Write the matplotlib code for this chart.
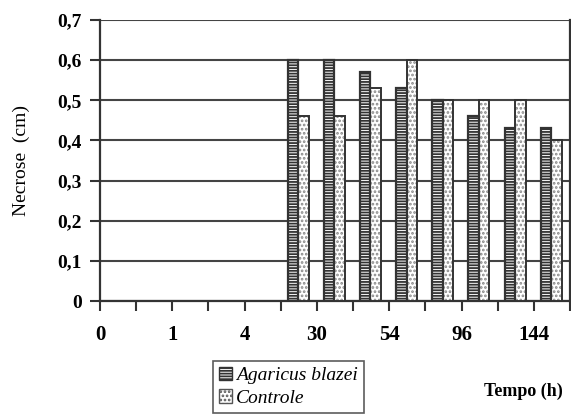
import matplotlib
matplotlib.use("Agg")
import matplotlib.pyplot as plt
import numpy as np
from matplotlib.patches import Patch

# category slots along the x axis (first five have no data)
n_slots = 13
first_bar_slot = 5
tick_labels = ["0", "1", "4", "30", "54", "96", "144"]
label_slots = [0, 2, 4, 6, 8, 10, 12]

agaricus = [0.60, 0.60, 0.57, 0.53, 0.50, 0.46, 0.43, 0.43]
controle = [0.46, 0.46, 0.53, 0.60, 0.50, 0.50, 0.50, 0.40]

y_ticks = [0, 0.1, 0.2, 0.3, 0.4, 0.5, 0.6, 0.7]
y_tick_labels = ["0", "0,1", "0,2", "0,3", "0,4", "0,5", "0,6", "0,7"]

plt.rcParams['font.family'] = ['Liberation Serif', 'DejaVu Serif']
plt.rcParams['hatch.linewidth'] = 1.3

fig = plt.figure(figsize=(5.71, 4.16), dpi=100)
ax = fig.add_axes([100/571, 1-301/416, 470/571, 281/416])

slots = np.arange(first_bar_slot, first_bar_slot + len(agaricus))
w = 0.29
xa = slots + 0.335
xc = slots + 0.625

ax.bar(xa, agaricus, width=w, color='white', edgecolor='#333333', hatch='------', linewidth=0, zorder=3)
ax.bar(xa, agaricus, width=w, fill=False, edgecolor='#333333', linewidth=1.6, zorder=4)
ax.bar(xc, controle, width=w, color='white', edgecolor='#888888', hatch='....', linewidth=0, zorder=3)
ax.bar(xc, controle, width=w, fill=False, edgecolor='#333333', linewidth=1.4, zorder=4)

ax.set_xlim(0, n_slots)
ax.set_ylim(0, 0.7)

ax.set_yticks(y_ticks)
ax.set_yticklabels(y_tick_labels, fontsize=14, fontweight='bold')
ax.yaxis.grid(True, color='#444444', linewidth=1.5, zorder=1)
ax.set_axisbelow(True)

ax.set_xticks(np.arange(0, n_slots + 1))
ax.set_xticklabels([])
for lab, s in zip(tick_labels, label_slots):
    ax.text(s, -0.085, lab, ha='center', va='center', fontsize=15, fontweight='bold',
            transform=ax.transData, clip_on=False)

ax.tick_params(axis='both', direction='out', length=7, width=1.5, color='#333333', pad=6)
for side in ['left', 'bottom', 'right', 'top']:
    ax.spines[side].set_color('#333333')
    ax.spines[side].set_linewidth(1.6)
ax.spines['top'].set_visible(False)

ax.set_ylabel('Necrose  (cm)', fontsize=14, labelpad=20)

fig.text(523/571, 1-391/416, 'Tempo (h)', ha='center', va='center', fontsize=13, fontweight='bold')

handles = [Patch(facecolor='white', edgecolor='#333333', hatch='------', label='Agaricus blazei'),
           Patch(facecolor='white', edgecolor='#555555', hatch='....', label='Controle')]
leg = fig.legend(handles=handles, loc='upper left', bbox_to_anchor=(213/571, 1-361/416),
                 prop={'style': 'italic', 'size': 14}, frameon=True, fancybox=False,
                 handlelength=0.7, handleheight=0.7, handletextpad=0.2, borderpad=0.3,
                 labelspacing=0.25, borderaxespad=0)
leg.get_frame().set_edgecolor('#333333')
leg.get_frame().set_linewidth(1.2)

fig.savefig('out.png', dpi=100)
